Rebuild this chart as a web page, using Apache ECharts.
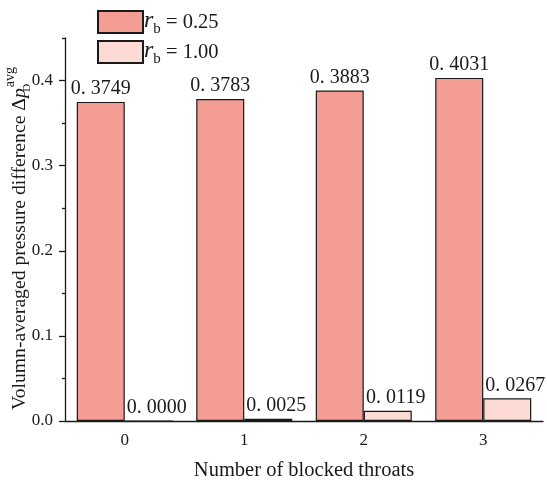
<!DOCTYPE html>
<html>
<head>
<meta charset="utf-8">
<script src="https://cdn.jsdelivr.net/npm/echarts@6/dist/echarts.min.js"></script>
<style>html,body{margin:0;padding:0;background:#fff}#c{width:547px;height:481px}</style>
</head>
<body>
<div id="c"></div>
<script>
var categories = ['0', '1', '2', '3'];
var seriesNames = ['rb = 0.25', 'rb = 1.00'];
var valuesRb025 = [0.3749, 0.3783, 0.3883, 0.4031];
var valuesRb100 = [0.0000, 0.0025, 0.0119, 0.0267];
var yMajorTicks = [0, 0.1, 0.2, 0.3, 0.4];
var yMinorTicks = [0.05, 0.15, 0.25, 0.35, 0.45];

var serif = 'Liberation Serif';
var ink = '#1a1a1a';
var chart = echarts.init(document.getElementById('c'));

function barLabel(p) {
  return p.value.toFixed(4).replace('.', '. ');
}

var legendRich = {
  i: { fontFamily: serif, fontStyle: 'italic', fontSize: 24, color: ink, lineHeight: 22, verticalAlign: 'bottom' },
  s: { fontFamily: serif, fontSize: 15, color: ink, lineHeight: 22, verticalAlign: 'bottom', padding: [0, 0, -4, 0] },
  t: { fontFamily: serif, fontSize: 20.5, color: ink, lineHeight: 22, verticalAlign: 'bottom' }
};

var nameRich = {
  t: { fontFamily: serif, fontSize: 19.7, color: ink, lineHeight: 24, verticalAlign: 'bottom' },
  i: { fontFamily: serif, fontStyle: 'italic', fontSize: 19.7, color: ink, lineHeight: 24, verticalAlign: 'bottom' },
  d: { fontFamily: serif, fontSize: 11, color: ink, lineHeight: 24, verticalAlign: 'bottom', width: 1, padding: [0, 0, -3, 0] },
  a: { fontFamily: serif, fontSize: 14, color: ink, lineHeight: 24, verticalAlign: 'top', padding: [-3, 0, 0, 0] }
};

chart.setOption({
  animation: false,
  backgroundColor: '#fff',
  legend: {
    orient: 'vertical',
    left: 97,
    top: 9,
    padding: 0,
    itemWidth: 45,
    itemHeight: 22,
    itemGap: 2,
    icon: 'rect',
    data: seriesNames,
    formatter: function (name) {
      return '{i|r}{s|b}{t| = ' + name.split('= ')[1] + '}';
    },
    textStyle: { rich: legendRich, padding: [0, 0, 0, -4] }
  },
  grid: { left: 65, right: 4, top: 38, bottom: 60, outerBoundsMode: 'none' },
  xAxis: {
    type: 'category',
    data: categories,
    name: 'Number of blocked throats',
    nameLocation: 'middle',
    nameGap: 39,
    nameMoveOverlap: false,
    nameTextStyle: { fontFamily: serif, fontSize: 20.5, color: ink },
    axisLine: { lineStyle: { color: ink, width: 1.3 } },
    axisTick: { alignWithLabel: true, length: 6, lineStyle: { color: ink, width: 1.3 } },
    axisLabel: { fontFamily: serif, fontSize: 17, color: ink, margin: 11 }
  },
  yAxis: [{
    type: 'value',
    min: 0,
    max: 0.45,
    name: '{t|Volumn-averaged pressure difference Δ}{i|p}{d|D}{a|avg}',
    nameLocation: 'middle',
    nameGap: 35,
    nameMoveOverlap: false,
    nameTextStyle: { rich: nameRich, padding: [0, 18, 0, 0] },
    splitLine: { show: false },
    axisLine: { show: true, lineStyle: { color: ink, width: 1.3 } },
    axisTick: { show: true, length: 6, customValues: yMajorTicks, lineStyle: { color: ink, width: 1.3 } },
    axisLabel: { customValues: yMajorTicks, fontFamily: serif, fontSize: 17, color: ink, margin: 12,
      formatter: function (v) { return v.toFixed(1); } }
  }, {
    type: 'value',
    min: 0,
    max: 0.45,
    position: 'left',
    splitLine: { show: false },
    axisLine: { show: false },
    axisTick: { show: true, length: 3, customValues: yMinorTicks, lineStyle: { color: ink, width: 1.3 } },
    axisLabel: { show: false }
  }],
  series: [{
    name: seriesNames[0],
    type: 'bar',
    data: valuesRb025,
    barWidth: 48,
    barGap: '0%',
    itemStyle: { color: '#F49D95', borderColor: ink, borderWidth: 1.2 },
    label: { show: true, position: 'top', distance: 3, formatter: barLabel,
      fontFamily: serif, fontSize: 20, color: ink }
  }, {
    name: seriesNames[1],
    type: 'bar',
    data: valuesRb100,
    barWidth: 48,
    barGap: '0%',
    itemStyle: { color: '#FDDAD4', borderColor: ink, borderWidth: 1.2 },
    label: { show: true, position: 'top', distance: 3, offset: [8, 0], formatter: barLabel,
      fontFamily: serif, fontSize: 20, color: ink }
  }]
});
</script>
</body>
</html>
